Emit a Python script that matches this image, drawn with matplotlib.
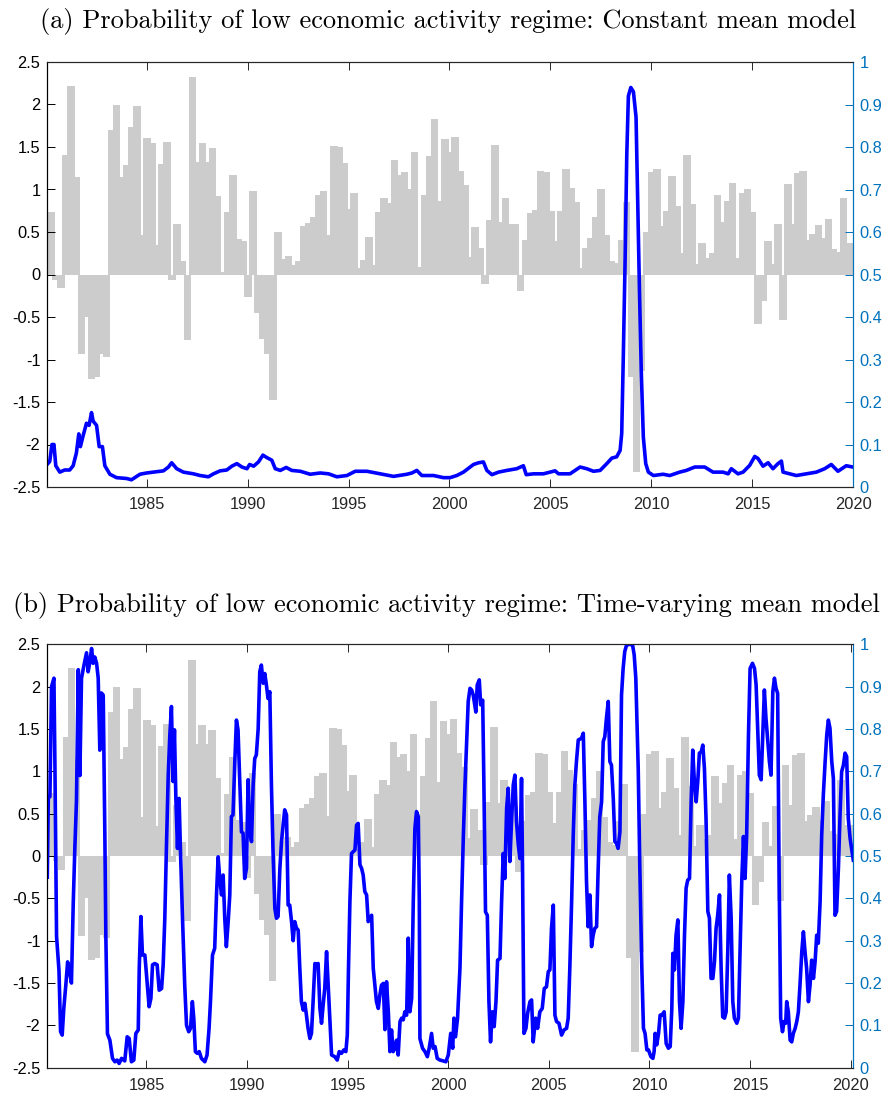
import numpy as np
import matplotlib.pyplot as plt

plt.rcParams["axes.unicode_minus"] = False
plt.rcParams["font.family"] = ["Liberation Sans", "DejaVu Sans"]

# quarterly growth bars, 1980Q1 .. 2019Q4 (left axis)
growth = [
    0.74, -0.06, -0.16, 1.41, 2.22, 1.15, -0.94, -0.50, -1.23, -1.21,
    -0.93, -0.97, 1.70, 1.99, 1.15, 1.29, 1.74, 1.98, 0.46, 1.61,
    1.55, 0.35, 1.30, 1.56, -0.07, 0.60, 0.16, -0.77, 2.32, 1.32,
    1.55, 1.32, 1.49, 0.92, 0.03, 0.73, 1.17, 0.42, 0.40, -0.26,
    0.98, -0.45, -0.76, -0.93, -1.48, 0.50, 0.18, 0.22, 0.11, 0.16,
    0.57, 0.61, 0.68, 0.94, 0.98, 0.47, 1.51, 1.50, 1.31, 0.77,
    0.96, 0.08, 0.17, 0.44, 0.11, 0.73, 0.90, 0.84, 1.35, 1.17,
    1.21, 1.00, 1.44, 0.09, 0.94, 1.39, 1.83, 0.87, 1.59, 1.44,
    1.62, 1.22, 1.05, 0.21, 0.56, 0.31, -0.11, 0.64, 1.52, 0.62,
    0.90, 0.59, 0.59, -0.19, 0.41, 0.72, 0.76, 1.22, 1.21, 0.75,
    0.39, 0.75, 1.24, 1.02, 0.85, 0.08, 0.31, 0.43, 0.68, 1.00,
    0.46, 0.16, 0.13, 0.41, 0.85, -1.21, -2.32, -1.13, 0.50, 1.20,
    1.24, 0.57, 0.75, 1.16, 0.80, 0.25, 1.41, 0.83, 0.12, 0.37,
    0.20, 0.25, 0.94, 0.62, 0.86, 1.08, 0.20, 0.96, 1.00, 0.74,
    -0.58, -0.31, 0.40, 0.12, 0.59, -0.53, 1.07, 0.60, 1.19, 1.22,
    0.41, 0.48, 0.58, 0.43, 0.65, 0.30, 0.26, 0.90, 0.37, 0.37,
]
quarters = 1980 + 0.25 * np.arange(len(growth))

# (a) constant mean model, probability of low regime (right axis)
t_a = [
    1980.07, 1980.20, 1980.31, 1980.41, 1980.50, 1980.70, 1980.94, 1981.19, 1981.36, 1981.52,
    1981.64, 1981.72, 1981.85, 1982.02, 1982.15, 1982.27, 1982.35, 1982.52, 1982.65, 1982.81,
    1982.93, 1983.18, 1983.51, 1984.01, 1984.25, 1984.67, 1985.00, 1985.33, 1985.83, 1986.08,
    1986.24, 1986.49, 1986.82, 1987.32, 1987.65, 1988.06, 1988.31, 1988.64, 1988.97, 1989.22,
    1989.47, 1989.72, 1989.97, 1990.10, 1990.30, 1990.54, 1990.76, 1990.96, 1991.20, 1991.37,
    1991.62, 1991.91, 1992.19, 1992.61, 1993.10, 1993.60, 1994.01, 1994.42, 1994.92, 1995.33,
    1995.91, 1996.57, 1997.23, 1997.89, 1998.14, 1998.38, 1998.63, 1999.21, 1999.70, 2000.03,
    2000.36, 2000.69, 2001.19, 2001.44, 2001.68, 2001.85, 2002.10, 2002.43, 2002.84, 2003.33,
    2003.66, 2003.80, 2004.16, 2004.65, 2005.23, 2005.40, 2005.97, 2006.47, 2006.80, 2007.13,
    2007.46, 2007.79, 2008.04, 2008.28, 2008.45, 2008.53, 2008.61, 2008.70, 2008.78, 2008.86,
    2008.98, 2009.11, 2009.24, 2009.31, 2009.41, 2009.50, 2009.60, 2009.72, 2009.85, 2010.10,
    2010.58, 2010.91, 2011.40, 2011.73, 2012.15, 2012.64, 2013.05, 2013.55, 2013.80, 2013.96,
    2014.29, 2014.54, 2014.87, 2015.12, 2015.28, 2015.53, 2015.78, 2016.02, 2016.27, 2016.44,
    2016.52, 2016.85, 2017.18, 2017.67, 2018.17, 2018.58, 2018.91, 2019.24, 2019.65, 2019.98,
]
p_a = [
    0.053, 0.06, 0.10, 0.10, 0.05, 0.035, 0.04, 0.04, 0.05, 0.08,
    0.125, 0.095, 0.12, 0.15, 0.145, 0.175, 0.155, 0.145, 0.095, 0.095,
    0.05, 0.03, 0.022, 0.02, 0.017, 0.03, 0.033, 0.035, 0.038, 0.047,
    0.057, 0.043, 0.035, 0.031, 0.027, 0.024, 0.031, 0.038, 0.04, 0.049,
    0.055, 0.047, 0.043, 0.053, 0.049, 0.059, 0.075, 0.069, 0.063, 0.043,
    0.039, 0.046, 0.039, 0.037, 0.030, 0.033, 0.031, 0.024, 0.027, 0.037,
    0.037, 0.031, 0.025, 0.030, 0.033, 0.039, 0.027, 0.027, 0.022, 0.022,
    0.027, 0.035, 0.053, 0.057, 0.059, 0.039, 0.029, 0.035, 0.039, 0.043,
    0.050, 0.029, 0.031, 0.031, 0.038, 0.031, 0.031, 0.047, 0.043, 0.037,
    0.039, 0.055, 0.068, 0.071, 0.086, 0.126, 0.31, 0.54, 0.78, 0.92,
    0.94, 0.93, 0.87, 0.70, 0.46, 0.27, 0.118, 0.055, 0.035, 0.027,
    0.03, 0.027, 0.035, 0.039, 0.047, 0.047, 0.035, 0.035, 0.031, 0.043,
    0.031, 0.035, 0.051, 0.072, 0.067, 0.049, 0.057, 0.043, 0.055, 0.061,
    0.035, 0.031, 0.027, 0.031, 0.035, 0.043, 0.053, 0.037, 0.05, 0.047,
]

# (b) time-varying mean model
t_b = [
    1980.07, 1980.12, 1980.20, 1980.28, 1980.40, 1980.45, 1980.53, 1980.65, 1980.73, 1980.81,
    1980.89, 1980.99, 1981.08, 1981.16, 1981.27, 1981.36, 1981.44, 1981.52, 1981.61, 1981.69,
    1981.77, 1981.89, 1982.02, 1982.10, 1982.19, 1982.27, 1982.35, 1982.43, 1982.52, 1982.60,
    1982.68, 1982.76, 1982.85, 1982.93, 1982.98, 1983.06, 1983.18, 1983.31, 1983.43, 1983.54,
    1983.64, 1983.76, 1983.92, 1984.04, 1984.14, 1984.25, 1984.37, 1984.47, 1984.59, 1984.64,
    1984.72, 1984.80, 1984.92, 1985.00, 1985.13, 1985.22, 1985.30, 1985.41, 1985.53, 1985.63,
    1985.75, 1985.83, 1985.91, 1985.99, 1986.08, 1986.16, 1986.24, 1986.32, 1986.39, 1986.46,
    1986.54, 1986.62, 1986.69, 1986.79, 1986.90, 1986.99, 1987.10, 1987.19, 1987.28, 1987.35,
    1987.43, 1987.52, 1987.62, 1987.73, 1987.90, 1988.01, 1988.11, 1988.18, 1988.28, 1988.39,
    1988.48, 1988.56, 1988.64, 1988.73, 1988.81, 1988.89, 1988.97, 1989.06, 1989.14, 1989.22,
    1989.30, 1989.39, 1989.47, 1989.55, 1989.64, 1989.72, 1989.80, 1989.88, 1989.97, 1990.05,
    1990.13, 1990.22, 1990.30, 1990.38, 1990.46, 1990.55, 1990.63, 1990.71, 1990.80, 1990.88,
    1990.96, 1991.04, 1991.13, 1991.21, 1991.29, 1991.38, 1991.46, 1991.54, 1991.63, 1991.71,
    1991.79, 1991.87, 1991.96, 1992.04, 1992.12, 1992.21, 1992.29, 1992.37, 1992.45, 1992.54,
    1992.62, 1992.70, 1992.79, 1992.87, 1992.95, 1993.03, 1993.12, 1993.20, 1993.28, 1993.37,
    1993.45, 1993.53, 1993.62, 1993.70, 1993.78, 1993.86, 1993.95, 1994.03, 1994.11, 1994.20,
    1994.36, 1994.48, 1994.58, 1994.69, 1994.81, 1994.91, 1994.98, 1995.04, 1995.11, 1995.19,
    1995.27, 1995.36, 1995.44, 1995.52, 1995.61, 1995.69, 1995.77, 1995.85, 1995.94, 1996.02,
    1996.10, 1996.19, 1996.27, 1996.35, 1996.43, 1996.52, 1996.60, 1996.68, 1996.77, 1996.85,
    1996.93, 1997.02, 1997.10, 1997.18, 1997.26, 1997.35, 1997.43, 1997.51, 1997.60, 1997.68,
    1997.76, 1997.84, 1997.93, 1998.01, 1998.09, 1998.18, 1998.26, 1998.34, 1998.42, 1998.51,
    1998.56, 1998.59, 1998.72, 1998.84, 1998.96, 1999.05, 1999.17, 1999.25, 1999.34, 1999.45,
    1999.59, 1999.75, 1999.88, 2000.00, 2000.12, 2000.22, 2000.28, 2000.36, 2000.46, 2000.58,
    2000.66, 2000.75, 2000.83, 2000.91, 2000.99, 2001.08, 2001.16, 2001.24, 2001.37, 2001.44,
    2001.54, 2001.61, 2001.71, 2001.77, 2001.85, 2001.94, 2002.02, 2002.10, 2002.19, 2002.28,
    2002.37, 2002.45, 2002.57, 2002.65, 2002.73, 2002.81, 2002.90, 2002.98, 2003.06, 2003.15,
    2003.23, 2003.31, 2003.39, 2003.48, 2003.56, 2003.64, 2003.69, 2003.76, 2003.86, 2003.94,
    2004.06, 2004.14, 2004.22, 2004.34, 2004.44, 2004.55, 2004.67, 2004.77, 2004.88, 2004.97,
    2005.05, 2005.13, 2005.22, 2005.30, 2005.38, 2005.50, 2005.63, 2005.75, 2005.88, 2005.96,
    2006.04, 2006.13, 2006.21, 2006.29, 2006.37, 2006.46, 2006.54, 2006.62, 2006.71, 2006.79,
    2006.87, 2006.95, 2007.04, 2007.12, 2007.20, 2007.28, 2007.37, 2007.45, 2007.53, 2007.62,
    2007.70, 2007.78, 2007.86, 2007.95, 2008.03, 2008.11, 2008.20, 2008.28, 2008.36, 2008.44,
    2008.53, 2008.61, 2008.69, 2008.77, 2008.86, 2009.02, 2009.16, 2009.24, 2009.32, 2009.44,
    2009.52, 2009.62, 2009.70, 2009.78, 2009.87, 2009.95, 2010.07, 2010.17, 2010.23, 2010.28,
    2010.36, 2010.45, 2010.53, 2010.61, 2010.73, 2010.83, 2010.94, 2011.03, 2011.11, 2011.16,
    2011.24, 2011.32, 2011.41, 2011.49, 2011.57, 2011.66, 2011.74, 2011.82, 2011.90, 2011.99,
    2012.07, 2012.15, 2012.24, 2012.32, 2012.40, 2012.48, 2012.57, 2012.65, 2012.73, 2012.81,
    2012.90, 2012.98, 2013.06, 2013.15, 2013.23, 2013.31, 2013.39, 2013.48, 2013.56, 2013.64,
    2013.73, 2013.81, 2013.89, 2013.97, 2014.06, 2014.14, 2014.22, 2014.34, 2014.42, 2014.50,
    2014.59, 2014.67, 2014.75, 2014.83, 2014.92, 2015.00, 2015.12, 2015.22, 2015.30, 2015.38,
    2015.46, 2015.55, 2015.63, 2015.71, 2015.79, 2015.88, 2015.96, 2016.04, 2016.13, 2016.21,
    2016.29, 2016.37, 2016.44, 2016.52, 2016.61, 2016.69, 2016.77, 2016.82, 2016.90, 2016.99,
    2017.07, 2017.15, 2017.24, 2017.32, 2017.40, 2017.48, 2017.57, 2017.65, 2017.73, 2017.81,
    2017.90, 2017.98, 2018.06, 2018.15, 2018.23, 2018.31, 2018.39, 2018.48, 2018.56, 2018.64,
    2018.73, 2018.81, 2018.89, 2018.97, 2019.06, 2019.14, 2019.22, 2019.30, 2019.39, 2019.47,
    2019.55, 2019.64, 2019.72, 2019.80, 2019.88, 2019.97, 2020.13,
]
p_b = [
    0.45, 0.64, 0.64, 0.90, 0.92, 0.71, 0.31, 0.23, 0.085, 0.077,
    0.14, 0.195, 0.25, 0.23, 0.20, 0.39, 0.52, 0.63, 0.94, 0.69,
    0.92, 0.95, 0.98, 0.935, 0.96, 0.99, 0.955, 0.97, 0.955, 0.92,
    0.75, 0.885, 0.88, 0.55, 0.31, 0.08, 0.065, 0.022, 0.014, 0.018,
    0.01, 0.022, 0.016, 0.073, 0.069, 0.014, 0.018, 0.081, 0.089, 0.235,
    0.357, 0.266, 0.266, 0.22, 0.144, 0.164, 0.243, 0.246, 0.243, 0.183,
    0.187, 0.243, 0.353, 0.518, 0.69, 0.786, 0.853, 0.676, 0.798, 0.636,
    0.518, 0.636, 0.51, 0.353, 0.195, 0.10, 0.085, 0.093, 0.156, 0.117,
    0.038, 0.034, 0.038, 0.022, 0.014, 0.03, 0.093, 0.156, 0.266, 0.282,
    0.408, 0.498, 0.447, 0.408, 0.455, 0.353, 0.286, 0.345, 0.408, 0.593,
    0.597, 0.723, 0.821, 0.798, 0.668, 0.557, 0.554, 0.447, 0.471, 0.68,
    0.557, 0.534, 0.668, 0.73, 0.739, 0.80, 0.935, 0.951, 0.908, 0.931,
    0.904, 0.872, 0.888, 0.668, 0.51, 0.376, 0.353, 0.357, 0.471, 0.534,
    0.573, 0.609, 0.597, 0.384, 0.384, 0.345, 0.30, 0.345, 0.33, 0.325,
    0.235, 0.156, 0.136, 0.152, 0.124, 0.093, 0.069, 0.081, 0.156, 0.246,
    0.243, 0.246, 0.14, 0.105, 0.148, 0.187, 0.274, 0.195, 0.117, 0.03,
    0.026, 0.018, 0.038, 0.034, 0.042, 0.038, 0.077, 0.235, 0.392, 0.506,
    0.51, 0.514, 0.573, 0.577, 0.479, 0.471, 0.455, 0.416, 0.408, 0.345,
    0.353, 0.36, 0.235, 0.195, 0.156, 0.14, 0.172, 0.195, 0.199, 0.09,
    0.203, 0.132, 0.038, 0.089, 0.038, 0.046, 0.065, 0.03, 0.109, 0.117,
    0.113, 0.132, 0.124, 0.306, 0.132, 0.164, 0.392, 0.565, 0.605, 0.593,
    0.392, 0.069, 0.046, 0.038, 0.026, 0.046, 0.081, 0.046, 0.05, 0.022,
    0.018, 0.016, 0.014, 0.03, 0.081, 0.046, 0.117, 0.073, 0.117, 0.235,
    0.392, 0.55, 0.668, 0.77, 0.865, 0.896, 0.892, 0.88, 0.84, 0.904,
    0.916, 0.857, 0.868, 0.668, 0.368, 0.36, 0.156, 0.061, 0.132, 0.097,
    0.156, 0.254, 0.258, 0.392, 0.506, 0.447, 0.613, 0.66, 0.487, 0.589,
    0.668, 0.691, 0.581, 0.526, 0.494, 0.683, 0.471, 0.081, 0.093, 0.128,
    0.156, 0.16, 0.061, 0.117, 0.093, 0.132, 0.14, 0.187, 0.191, 0.227,
    0.231, 0.329, 0.384, 0.124, 0.109, 0.105, 0.077, 0.089, 0.093, 0.117,
    0.235, 0.392, 0.55, 0.668, 0.723, 0.774, 0.776, 0.778, 0.79, 0.628,
    0.439, 0.333, 0.408, 0.286, 0.313, 0.329, 0.333, 0.471, 0.593, 0.628,
    0.77, 0.782, 0.825, 0.865, 0.723, 0.715, 0.636, 0.534, 0.53, 0.518,
    0.557, 0.88, 0.943, 0.983, 0.998, 1.0, 0.998, 0.975, 0.92, 0.707,
    0.471, 0.235, 0.093, 0.081, 0.042, 0.042, 0.026, 0.022, 0.038, 0.081,
    0.054, 0.081, 0.124, 0.124, 0.132, 0.057, 0.046, 0.05, 0.14, 0.27,
    0.231, 0.313, 0.349, 0.156, 0.093, 0.156, 0.313, 0.424, 0.443, 0.447,
    0.628, 0.75, 0.668, 0.628, 0.676, 0.743, 0.746, 0.762, 0.707, 0.589,
    0.369, 0.353, 0.211, 0.211, 0.25, 0.329, 0.36, 0.408, 0.235, 0.12,
    0.117, 0.132, 0.274, 0.455, 0.353, 0.156, 0.117, 0.105, 0.117, 0.274,
    0.447, 0.546, 0.447, 0.55, 0.786, 0.943, 0.955, 0.943, 0.904, 0.80,
    0.691, 0.68, 0.786, 0.892, 0.825, 0.77, 0.723, 0.691, 0.888, 0.92,
    0.896, 0.884, 0.471, 0.117, 0.085, 0.109, 0.105, 0.156, 0.132, 0.065,
    0.061, 0.081, 0.093, 0.109, 0.132, 0.195, 0.274, 0.321, 0.274, 0.235,
    0.156, 0.195, 0.254, 0.211, 0.25, 0.313, 0.294, 0.392, 0.55, 0.644,
    0.723, 0.786, 0.821, 0.802, 0.723, 0.683, 0.36, 0.369, 0.471, 0.597,
    0.699, 0.715, 0.743, 0.735, 0.589, 0.542, 0.49,
]

left_ticks = [-2.5, -2, -1.5, -1, -0.5, 0, 0.5, 1, 1.5, 2, 2.5]
left_labels = ["-2.5", "-2", "-1.5", "-1", "-0.5", "0", "0.5", "1", "1.5", "2", "2.5"]
right_ticks = [0, 0.1, 0.2, 0.3, 0.4, 0.5, 0.6, 0.7, 0.8, 0.9, 1]
right_labels = ["0", "0.1", "0.2", "0.3", "0.4", "0.5", "0.6", "0.7", "0.8", "0.9", "1"]
year_ticks = [1985, 1990, 1995, 2000, 2005, 2010, 2015, 2020]

title_a = "(a) Probability of low economic activity regime: Constant mean model"
title_b = "(b) Probability of low economic activity regime: Time-varying mean model"

BLUE_AX = "#0072BD"
DARK = "#262626"
W, H = 889, 1097


def panel(fig, rect, t, p, xlim):
    ax = fig.add_axes(rect)
    ax.bar(quarters + 0.08, growth, width=0.375, align="edge", color="#cccccc", linewidth=0)
    ax.set_xlim(*xlim)
    ax.set_ylim(-2.5, 2.5)
    ax.set_xticks(year_ticks)
    ax.set_xticklabels([str(y) for y in year_ticks])
    ax.set_yticks(left_ticks)
    ax.set_yticklabels(left_labels)
    ax.tick_params(axis="x", direction="in", length=5.8, width=0.7, top=True,
                   labelsize=11.8, colors=DARK, pad=7.5)
    ax.tick_params(axis="y", direction="in", length=5.8, width=0.7, labelsize=11.8,
                   colors="black", pad=5)

    ax2 = ax.twinx()
    ax2.plot(t, p, color="blue", lw=2.6, solid_joinstyle="round")
    ax2.set_xlim(*xlim)
    ax2.set_ylim(0, 1)
    ax2.set_yticks(right_ticks)
    ax2.set_yticklabels(right_labels)
    ax2.tick_params(axis="y", direction="in", length=5.8, width=0.7, labelsize=11.8,
                    colors=BLUE_AX, pad=4.5)
    for a in (ax, ax2):
        a.spines["top"].set_color(DARK)
        a.spines["bottom"].set_color(DARK)
        a.spines["left"].set_color("black")
        a.spines["right"].set_color(BLUE_AX)
        for s in a.spines.values():
            s.set_linewidth(0.8)
    return ax


fig = plt.figure(figsize=(W / 100, H / 100), dpi=100)
panel(fig, [47.3 / W, 1 - 487 / H, 806 / W, 425 / H], t_a, p_a, (1980.08, 2020.0))
panel(fig, [47.3 / W, 1 - 1067.7 / H, 806 / W, 423.4 / H], t_b, p_b, (1980.07, 2020.13))

fig.text(448 / W, 1 - 28 / H, title_a, ha="center", va="baseline", fontsize=19, family="cmr10")
fig.text(446.5 / W, 1 - 612 / H, title_b, ha="center", va="baseline", fontsize=19, family="cmr10")

fig.savefig("out.png", dpi=100)
